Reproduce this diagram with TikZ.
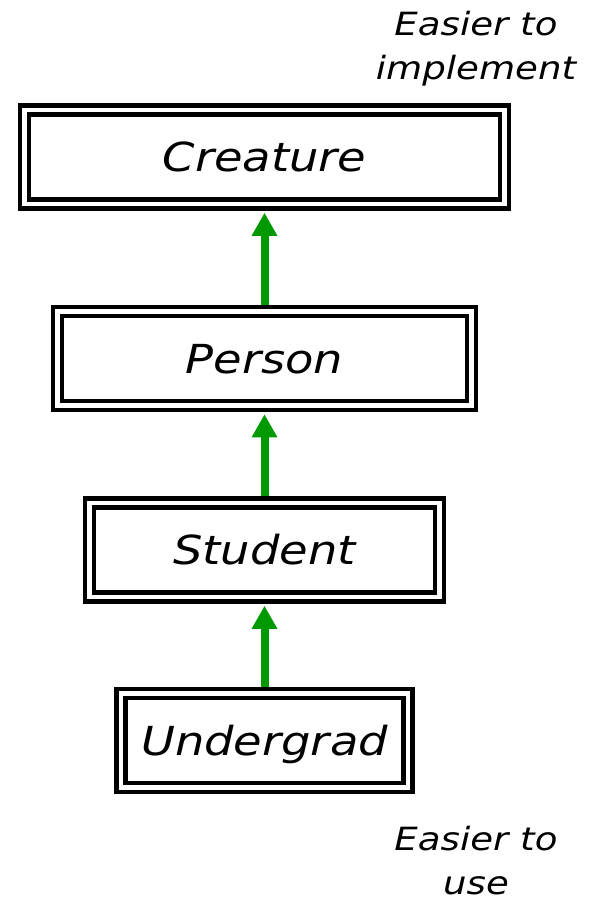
\documentclass[tikz,border=0pt]{standalone}
\usepackage{fontspec}
\setmainfont{DejaVu Sans}[FakeStretch=1.16]
\usetikzlibrary{arrows.meta}
\definecolor{arrowgreen}{RGB}{0,153,0}
\tikzset{
  classbox/.style={draw=black, line width=4.5pt, double=white, double distance=4.5pt,
    rectangle, inner sep=0pt, outer sep=6.75pt, minimum height=94pt,
    font=\fontsize{40}{44}\selectfont\itshape, text height=29pt, text depth=0pt},
  inherits/.style={draw=arrowgreen, line width=8pt,
    -{Triangle[width=24pt,length=23pt]}, shorten >=2pt},
  sidenote/.style={font=\fontsize{32}{44}\selectfont\itshape, align=center,
    inner sep=0pt, anchor=base}
}
\begin{document}
\begin{tikzpicture}[x=1pt, y=-1pt]
  \useasboundingbox (0,0) rectangle (592,900);
  % class hierarchy, most general at the top
  \node[classbox, minimum width=480pt] (creature)  at (264.5,157)   {Creature};
  \node[classbox, minimum width=414pt] (person)    at (264.5,358.5) {Person};
  \node[classbox, minimum width=350pt] (student)   at (264.5,550)   {Student};
  \node[classbox, minimum width=287pt] (undergrad) at (264.5,740.5) {Undergrad};
  % "is a" arrows
  \draw[inherits] (person.north)    -- (creature.south);
  \draw[inherits] (student.north)   -- (person.south);
  \draw[inherits] (undergrad.north) -- (student.south);
  % trade-off notes (anchored on the baseline of the last line)
  \node[sidenote] (implnote) at (476,79)  {Easier to\\implement};
  \node[sidenote] (usenote)  at (476,894) {Easier to\\use};
\end{tikzpicture}
\end{document}
